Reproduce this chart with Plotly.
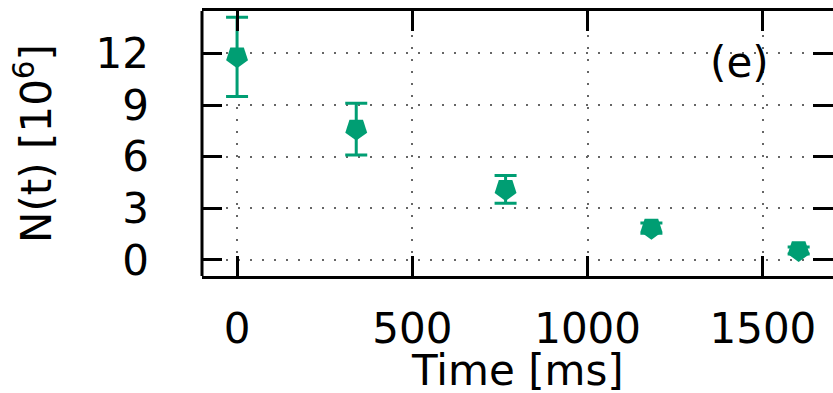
import plotly.graph_objects as go

# Atom number decay measurements
time_ms = [0, 340, 766, 1182, 1602]
atoms_1e6 = [11.8, 7.6, 4.1, 1.85, 0.55]
atoms_err = [2.3, 1.5, 0.8, 0.3, 0.2]

x_ticks = [0, 500, 1000, 1500]
y_ticks = [0, 3, 6, 9, 12]

GREEN = "#009E73"
FONT = "DejaVu Sans"

fig = go.Figure()
fig.add_trace(go.Scatter(
    x=time_ms,
    y=atoms_1e6,
    mode="markers",
    marker=dict(symbol="pentagon", size=23, color=GREEN, angle=180,
                line=dict(width=0)),
    error_y=dict(type="data", array=atoms_err, visible=True,
                 color=GREEN, thickness=3, width=11),
    showlegend=False,
))

fig.update_layout(
    width=833, height=393,
    margin=dict(l=202, r=0, t=11, b=117),
    paper_bgcolor="white", plot_bgcolor="white",
    font=dict(family=FONT, size=42, color="black"),
    xaxis=dict(
        range=[-100, 1700],
        tickvals=x_ticks,
        ticktext=[str(v) for v in x_ticks],
        ticks="inside", ticklen=20, tickwidth=3, tickcolor="black",
        showline=True, linewidth=3, linecolor="black", mirror="ticks",
        showgrid=True, gridcolor="#666", gridwidth=1.5, griddash="2px,10px",
        zeroline=False,
        ticklabelstandoff=14,
        layer="above traces",
    ),
    yaxis=dict(
        range=[-0.93, 14.46],
        tickvals=y_ticks,
        ticktext=[str(v) for v in y_ticks],
        ticks="inside", ticklen=20, tickwidth=3, tickcolor="black",
        showline=False, mirror="ticks",
        showgrid=True, gridcolor="#666", gridwidth=1.5, griddash="2px,10px",
        zeroline=False,
        ticklabelstandoff=52,
        title=dict(text="N(t) [10<sup>6</sup>]", standoff=30, font=dict(size=42)),
        layer="above traces",
    ),
    shapes=[dict(type="line", xref="paper", yref="paper",
                 x0=0, x1=0, y0=0, y1=1,
                 line=dict(color="black", width=3))],
    annotations=[
        dict(text="(e)", xref="x", yref="y", x=1522, y=11.45,
             xanchor="right", yanchor="middle", showarrow=False,
             font=dict(size=42)),
        dict(text="Time [ms]", xref="paper", yref="paper", x=0.5, y=-0.355,
             xanchor="center", yanchor="middle", showarrow=False,
             font=dict(size=42)),
    ],
)

fig.write_html("out.html")
